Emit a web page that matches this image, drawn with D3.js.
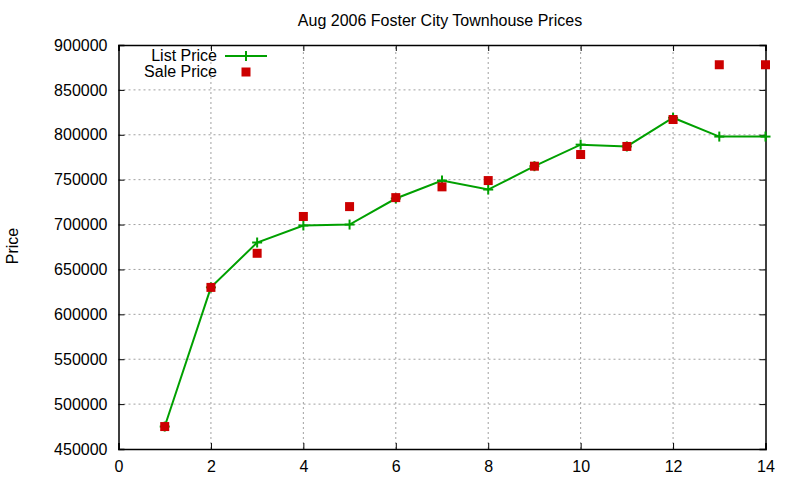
<!DOCTYPE html>
<html>
<head>
<meta charset="utf-8">
<script src="https://cdn.jsdelivr.net/npm/d3@7"></script>
<style>
  body { margin: 0; background: #fff; }
  text { font-family: "Liberation Sans", Arial, sans-serif; fill: #000; }
</style>
</head>
<body>
<div id="chart"></div>
<script>
const months = [1, 2, 3, 4, 5, 6, 7, 8, 9, 10, 11, 12, 13, 14];
const listPrice = [475000, 630000, 680000, 699000, 700000, 729000, 749000, 739000, 765000, 789000, 787000, 819000, 798000, 798000];
const salePrice = [475000, 630000, 668000, 709000, 720000, 730000, 742000, 749000, 765000, 778000, 787000, 817000, 878000, 878000];
const xTicks = [0, 2, 4, 6, 8, 10, 12, 14];
const yTicks = [450000, 500000, 550000, 600000, 650000, 700000, 750000, 800000, 850000, 900000];

const width = 800, height = 480;
const margin = { left: 118.5, right: 34.5, top: 45, bottom: 31 };

const svg = d3.select("#chart").append("svg")
  .attr("width", width)
  .attr("height", height);

const x = d3.scaleLinear().domain([0, 14]).range([margin.left, width - margin.right]);
const y = d3.scaleLinear().domain([450000, 900000]).range([height - margin.bottom, margin.top]);

// grid
svg.append("g").selectAll("line").data(xTicks.slice(1, -1)).join("line")
  .attr("x1", d => x(d)).attr("x2", d => x(d))
  .attr("y1", y(450000)).attr("y2", y(900000))
  .attr("stroke", "#a0a0a0").attr("stroke-dasharray", "2,3");
svg.append("g").selectAll("line").data(yTicks.slice(1, -1)).join("line")
  .attr("x1", x(0)).attr("x2", x(14))
  .attr("y1", d => y(d)).attr("y2", d => y(d))
  .attr("stroke", "#a0a0a0").attr("stroke-dasharray", "2,3");

// axes (gnuplot style inward ticks on all sides)
const fmt = d3.format("d");
svg.append("g").attr("transform", `translate(0,${y(450000)})`)
  .call(d3.axisBottom(x).tickValues(xTicks).tickSize(-6).tickPadding(12).tickFormat(fmt));
svg.append("g").attr("transform", `translate(0,${y(900000)})`)
  .call(d3.axisTop(x).tickValues(xTicks).tickSize(-6).tickFormat(""));
svg.append("g").attr("transform", `translate(${x(0)},0)`)
  .call(d3.axisLeft(y).tickValues(yTicks).tickSize(-6).tickPadding(11).tickFormat(fmt));
svg.append("g").attr("transform", `translate(${x(14)},0)`)
  .call(d3.axisRight(y).tickValues(yTicks).tickSize(-6).tickFormat(""));

svg.selectAll(".domain").attr("stroke", "#000").attr("stroke-width", 1.5);
svg.selectAll(".tick line").attr("stroke", "#000");
svg.selectAll(".tick text").style("font-size", "16px").style("font-family", "Liberation Sans, Arial, sans-serif").attr("fill", "#000");

// title + y label
svg.append("text").attr("x", 440).attr("y", 26).attr("text-anchor", "middle")
  .style("font-size", "16px").text("Aug 2006 Foster City Townhouse Prices");
svg.append("text").attr("transform", "translate(18,246) rotate(-90)").attr("text-anchor", "middle")
  .style("font-size", "16px").text("Price");

const green = "#00a000", red = "#cc0000";

// list price line
const line = d3.line().x((d, i) => x(months[i])).y(d => y(d));
svg.append("path").datum(listPrice)
  .attr("d", line).attr("fill", "none").attr("stroke", green).attr("stroke-width", 2);

const cross = (g, cx, cy) => {
  g.append("line").attr("x1", cx - 5).attr("x2", cx + 5).attr("y1", cy).attr("y2", cy)
    .attr("stroke", green).attr("stroke-width", 2);
  g.append("line").attr("x1", cx).attr("x2", cx).attr("y1", cy - 5).attr("y2", cy + 5)
    .attr("stroke", green).attr("stroke-width", 2);
};
const crosses = svg.append("g");
listPrice.forEach((v, i) => cross(crosses, x(months[i]), y(v)));

// sale price squares
svg.append("g").selectAll("rect").data(salePrice).join("rect")
  .attr("x", (d, i) => x(months[i]) - 4.5)
  .attr("y", d => y(d) - 4.5)
  .attr("width", 9).attr("height", 9)
  .attr("fill", red);

// legend
const legend = svg.append("g");
legend.append("text").attr("x", 217).attr("y", 61).attr("text-anchor", "end")
  .style("font-size", "16px").text("List Price");
legend.append("line").attr("x1", 225).attr("x2", 267).attr("y1", 56).attr("y2", 56)
  .attr("stroke", green).attr("stroke-width", 2);
cross(legend, 246, 56);
legend.append("text").attr("x", 217).attr("y", 77).attr("text-anchor", "end")
  .style("font-size", "16px").text("Sale Price");
legend.append("rect").attr("x", 241.5).attr("y", 67.5).attr("width", 9).attr("height", 9).attr("fill", red);
</script>
</body>
</html>
